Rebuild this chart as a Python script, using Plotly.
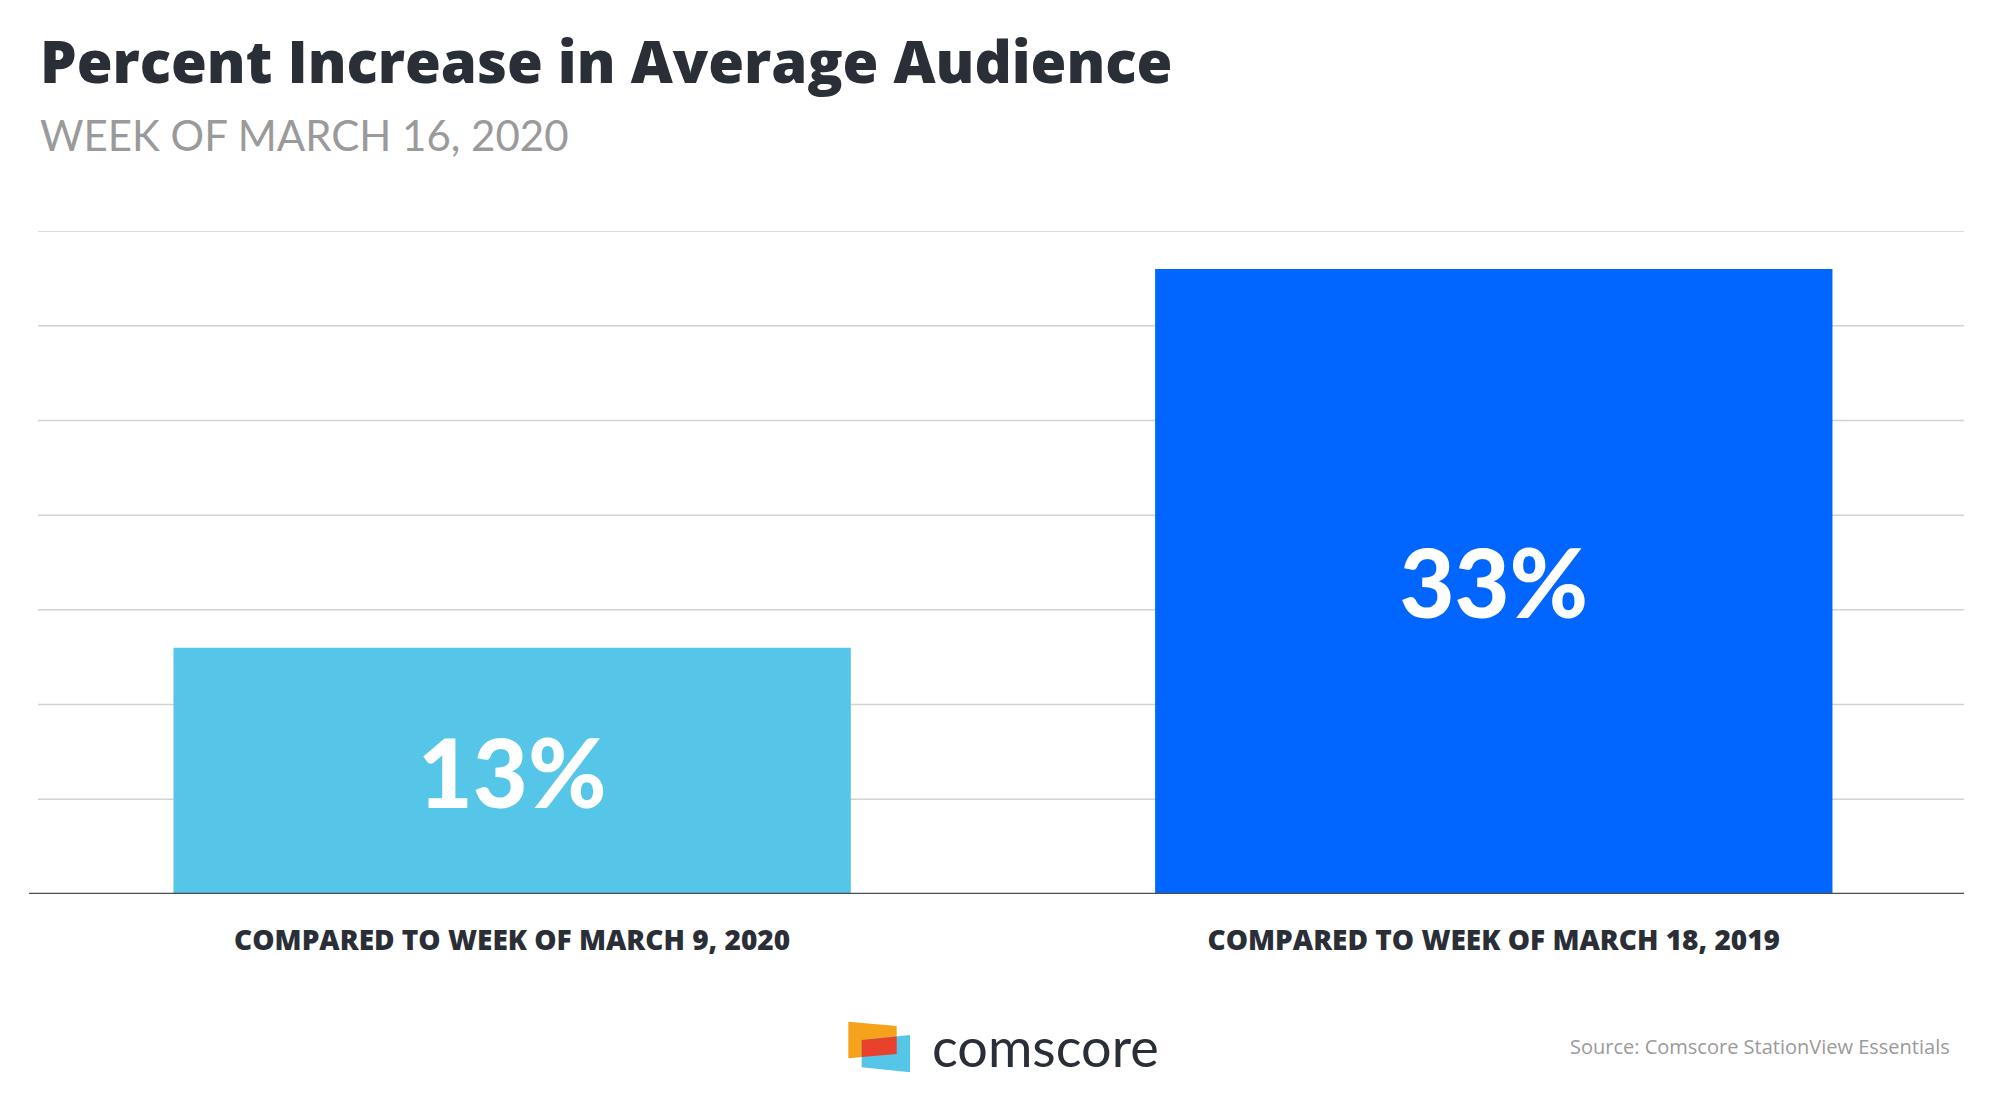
import plotly.graph_objects as go

# ---- data ----
categories = ["COMPARED TO WEEK OF MARCH 9, 2020", "COMPARED TO WEEK OF MARCH 18, 2019"]
values = [13, 33]
value_labels = ["13%", "33%"]
bar_colors = ["#55c5e8", "#0066ff"]
grid_values = [5, 10, 15, 20, 25, 30, 35]

title_text = "Percent Increase in Average Audience"
subtitle_text = "WEEK OF MARCH 16, 2020"
source_text = "Source: Comscore StationView Essentials"
brand_text = "comscore"

W, H = 2000, 1110
OFF = 8  # page body margin offset
# plot area in reference pixel coords
X0, X1, Y0, Y1 = 38, 1964, 231, 894
ML, MR = X0 - OFF, W - (X1 - OFF)
MT, MB = Y0 - OFF, H - (Y1 - OFF)
PW, PH = X1 - X0, Y1 - Y0


def px(x):
    return (x - X0) / PW


def py(y):
    return (Y1 - y) / PH


DARK = "#2a2e36"
GRID = "#d2d2d2"

fig = go.Figure(
    go.Bar(
        x=categories,
        y=values,
        text=value_labels,
        marker=dict(color=bar_colors, line=dict(width=0)),
        width=0.69,
        textposition="inside",
        insidetextanchor="middle",
        textangle=0,
        constraintext="none",
        textfont=dict(family="Lato", size=95, color="white", weight=900),
        hoverinfo="skip",
    )
)

shapes = [
    dict(type="line", xref="paper", yref="y", x0=0, x1=1, y0=g, y1=g,
         line=dict(color=GRID, width=1.5), layer="below")
    for g in grid_values
]
shapes += [
    # baseline
    dict(type="line", xref="paper", yref="y", x0=px(29), x1=1, y0=0, y1=0,
         line=dict(color="#4a4d52", width=2.5), layer="above"),
    # logo
    dict(type="path", xref="paper", yref="paper",
         path=f"M {px(848.3)},{py(1021.7)} L {px(896.7)},{py(1026)} L {px(896.7)},{py(1054)} L {px(848.3)},{py(1058.3)} Z",
         fillcolor="#f7a21b", line=dict(width=0)),
    dict(type="path", xref="paper", yref="paper",
         path=f"M {px(861.7)},{py(1040)} L {px(910)},{py(1035)} L {px(910)},{py(1072.3)} L {px(861.7)},{py(1067.3)} Z",
         fillcolor="#55c5e8", line=dict(width=0)),
    dict(type="path", xref="paper", yref="paper",
         path=f"M {px(861.7)},{py(1040)} L {px(896.7)},{py(1036.4)} L {px(896.7)},{py(1054)} L {px(861.7)},{py(1057.1)} Z",
         fillcolor="#e8412c", line=dict(width=0)),
]

fig.update_layout(
    width=W,
    height=H,
    margin=dict(l=ML, r=MR, t=MT, b=MB, pad=0),
    paper_bgcolor="white",
    plot_bgcolor="white",
    showlegend=False,
    xaxis=dict(
        range=[-0.483, 1.479],
        showgrid=False,
        zeroline=False,
        showline=False,
        ticks="",
        ticklabelstandoff=27,
        tickfont=dict(family="Open Sans", size=28, color=DARK, weight=800),
    ),
    yaxis=dict(
        range=[0, 35],
        showgrid=False,
        zeroline=False,
        showticklabels=False,
        ticks="",
    ),
    shapes=shapes,
    annotations=[
        dict(text=title_text, xref="paper", yref="paper", x=0, y=py(60),
             xanchor="left", yanchor="middle", showarrow=False,
             font=dict(family="Open Sans", size=58, color=DARK, weight=800)),
        dict(text=subtitle_text, xref="paper", yref="paper", x=0, y=py(135),
             xanchor="left", yanchor="middle", showarrow=False,
             font=dict(family="Lato", size=42, color="#9a9a9a")),
        dict(text=brand_text, xref="paper", yref="paper", x=px(930), y=py(1046),
             xanchor="left", yanchor="middle", showarrow=False,
             font=dict(family="Lato", size=54, color=DARK)),
        dict(text=source_text, xref="paper", yref="paper", x=px(1952), y=py(1046),
             xanchor="right", yanchor="middle", showarrow=False,
             font=dict(family="Open Sans", size=20, color="#9a9a9a")),
    ],
)

fig.write_html("out.html")
